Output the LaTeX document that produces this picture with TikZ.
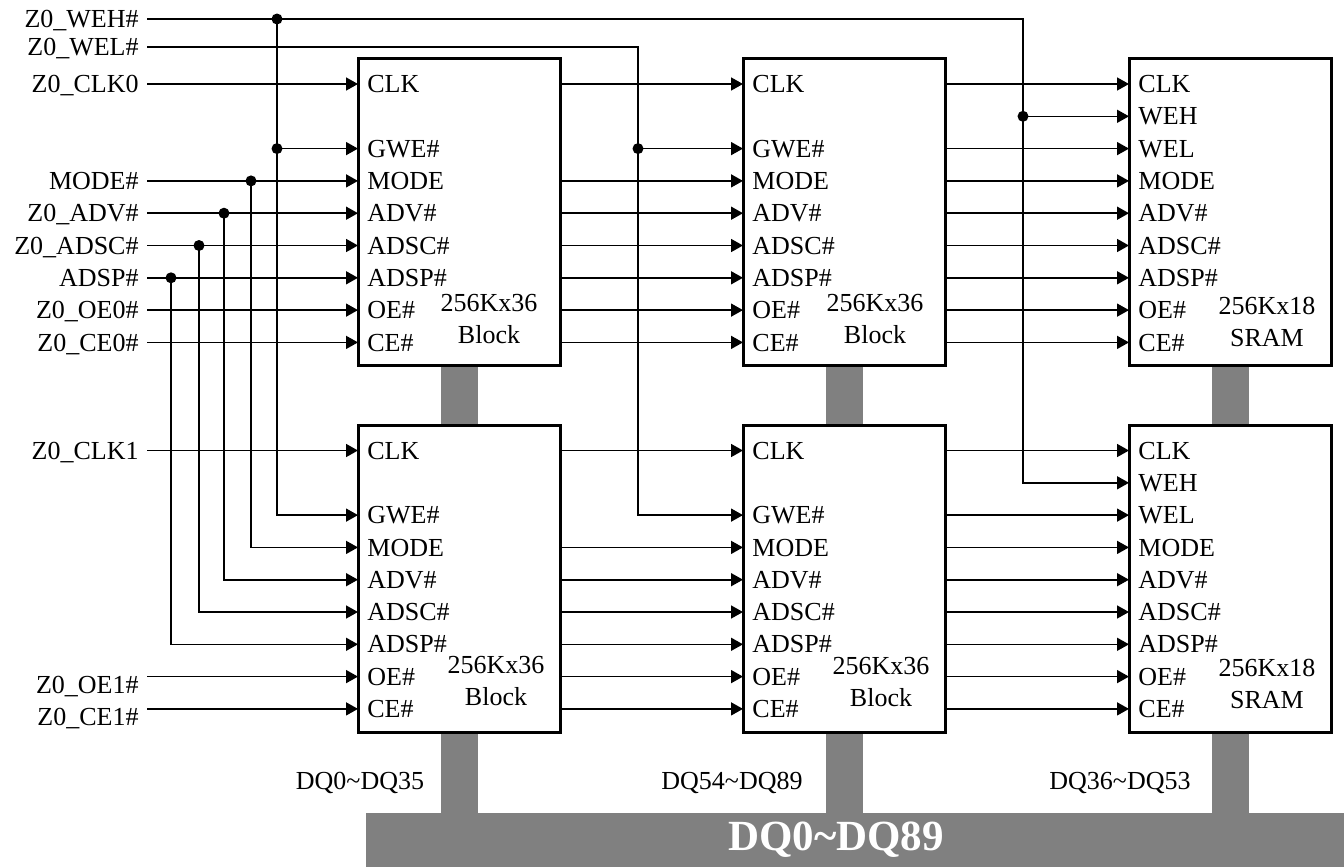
\documentclass[tikz,border=0pt]{standalone}
\usepackage{fontspec}
\setmainfont{Liberation Serif}
\usepackage{tikz}
\usetikzlibrary{arrows.meta,calc,backgrounds}
\definecolor{busgray}{RGB}{128,128,128}

\begin{document}
\begin{tikzpicture}[x=0.5pt,y=-0.5pt,
  blk/.style={draw,line width=1.5pt,minimum width=101pt,minimum height=153.5pt,inner sep=0pt,outer sep=0pt,anchor=north west},
  pin/.style={anchor=west,inner xsep=4.5pt,inner ysep=0pt,text height=8.6pt,text depth=0pt,font=\fontsize{13}{16}\selectfont},
  sigl/.style={anchor=east,inner xsep=4pt,inner ysep=0pt,text height=8.6pt,text depth=0pt,font=\fontsize{13}{16}\selectfont},
  title/.style={align=center,inner sep=0pt,font=\fontsize{13}{16}\selectfont},
  sig/.style={line width=0.8pt,-{Triangle[length=6pt,width=6.5pt]}},
  dot/.style={circle,fill,inner sep=0pt,minimum size=5.5pt},
  dq/.style={draw=busgray,line width=18.5pt},
  bus/.style={fill=busgray,anchor=north west,inner sep=0pt,outer sep=0pt,minimum width=489pt,minimum height=27pt}]
\useasboundingbox (0,0) rectangle (1344,867);

% blocks and srams
\node[blk] (u1) at (358,58.5) {};
\node[blk] (u2) at (743,58.5) {};
\node[blk] (u3) at (1129,58.5) {};
\node[blk] (l1) at (358,425) {};
\node[blk] (l2) at (743,425) {};
\node[blk] (l3) at (1129,425) {};

\foreach \b in {u1,u2,l1,l2}
  \foreach \pn/\pl/\pk in {clk/CLK/0,gwe/GWE\#/2,mode/MODE/3,adv/ADV\#/4,adsc/ADSC\#/5,adsp/ADSP\#/6,oe/OE\#/7,ce/CE\#/8}
    \node[pin] (\b-\pn) at ($(\b.north west)+(0,{25.5+32.3*\pk})$) {\pl};
\foreach \b in {u3,l3}
  \foreach \pn/\pl/\pk in {clk/CLK/0,weh/WEH/1,wel/WEL/2,mode/MODE/3,adv/ADV\#/4,adsc/ADSC\#/5,adsp/ADSP\#/6,oe/OE\#/7,ce/CE\#/8}
    \node[pin] (\b-\pn) at ($(\b.north west)+(0,{25.5+32.3*\pk})$) {\pl};

\node[title] (u1t) at (489,319) {256Kx36\\Block};
\node[title] (u2t) at (875,319) {256Kx36\\Block};
\node[title] (u3t) at (1267,322) {256Kx18\\SRAM};
\node[title] (l1t) at (496,681) {256Kx36\\Block};
\node[title] (l2t) at (881,682) {256Kx36\\Block};
\node[title] (l3t) at (1267,684) {256Kx18\\SRAM};

% inputs
\coordinate (xl) at (147,0);
\node[sigl] (weh) at (147,19) {Z0\_WEH\#};
\node[sigl] (wel) at (147,47) {Z0\_WEL\#};
\node[sigl] (clk0) at (xl |- u1-clk) {Z0\_CLK0};
\node[sigl] (mode) at (xl |- u1-mode) {MODE\#};
\node[sigl] (adv) at (xl |- u1-adv) {Z0\_ADV\#};
\node[sigl] (adsc) at (xl |- u1-adsc) {Z0\_ADSC\#};
\node[sigl] (adsp) at (xl |- u1-adsp) {ADSP\#};
\node[sigl] (oe0) at (xl |- u1-oe) {Z0\_OE0\#};
\node[sigl] (ce0) at (xl |- u1-ce) {Z0\_CE0\#};
\node[sigl] (clk1) at (xl |- l1-clk) {Z0\_CLK1};
\node[sigl,yshift=-4pt] (oe1) at (xl |- l1-oe) {Z0\_OE1\#};
\node[sigl,yshift=-4pt] (ce1) at (xl |- l1-ce) {Z0\_CE1\#};

\draw[sig] (clk0) -- (u1-clk.west);
\draw[sig] (mode) -- (u1-mode.west);
\draw[sig] (adv) -- (u1-adv.west);
\draw[sig] (adsc) -- (u1-adsc.west);
\draw[sig] (adsp) -- (u1-adsp.west);
\draw[sig] (oe0) -- (u1-oe.west);
\draw[sig] (ce0) -- (u1-ce.west);
\draw[sig] (clk1) -- (l1-clk.west);
\draw[sig] (oe1.east |- l1-oe) -- (l1-oe.west);
\draw[sig] (ce1.east |- l1-ce) -- (l1-ce.west);

% taps down to the lower row
\coordinate (xsp) at (171,0);
\coordinate (xsc) at (199,0);
\coordinate (xav) at (224,0);
\coordinate (xmd) at (251,0);
\coordinate (xh) at (277,0);
\coordinate (xw) at (638,0);
\coordinate (xs) at (1023,0);
\draw[sig] (xsp |- adsp) node[dot]{} |- (l1-adsp.west);
\draw[sig] (xsc |- adsc) node[dot]{} |- (l1-adsc.west);
\draw[sig] (xav |- adv) node[dot]{} |- (l1-adv.west);
\draw[sig] (xmd |- mode) node[dot]{} |- (l1-mode.west);
\draw[sig] (xh |- weh) node[dot]{} |- (l1-gwe.west);
\draw[sig] (xh |- u1-gwe) node[dot]{} -- (u1-gwe.west);
\draw[sig] (weh.east) -| (xs |- l3-weh) -- (l3-weh.west);
\draw[sig] (xs |- u3-weh) node[dot]{} -- (u3-weh.west);
\draw[sig] (wel.east) -| (xw |- l2-gwe) -- (l2-gwe.west);
\draw[sig] (xw |- u2-gwe) node[dot]{} -- (u2-gwe.west);

% block to block
\foreach \pn in {clk,mode,adv,adsc,adsp,oe,ce}{
  \draw[sig] (u1.east |- u1-\pn) -- (u2-\pn.west);
  \draw[sig] (l1.east |- l1-\pn) -- (l2-\pn.west);
  \draw[sig] (u2.east |- u2-\pn) -- (u3-\pn.west);
  \draw[sig] (l2.east |- l2-\pn) -- (l3-\pn.west);
}
\draw[sig] (u2.east |- u2-gwe) -- (u3-wel.west);
\draw[sig] (l2.east |- l2-gwe) -- (l3-wel.west);

% data bus
\begin{scope}[on background layer]
\node[bus] (dqbus) at (366,813) {};
\draw[dq] (u1.south) -- (l1.north);
\draw[dq] (u2.south) -- (l2.north);
\draw[dq] (u3.south) -- (l3.north);
\draw[dq] (l1.south) -- (l1.south |- dqbus.north);
\draw[dq] (l2.south) -- (l2.south |- dqbus.north);
\draw[dq] (l3.south) -- (l3.south |- dqbus.north);
\end{scope}
\node[text=white,font=\fontsize{21.5}{24}\selectfont\bfseries] (dqall) at (836,840) {DQ0\textasciitilde DQ89};
\node[title] (dql) at (360,783) {DQ0\textasciitilde DQ35};
\node[title] (dqm) at (732,783) {DQ54\textasciitilde DQ89};
\node[title] (dqr) at (1120,783) {DQ36\textasciitilde DQ53};
\end{tikzpicture}
\end{document}
